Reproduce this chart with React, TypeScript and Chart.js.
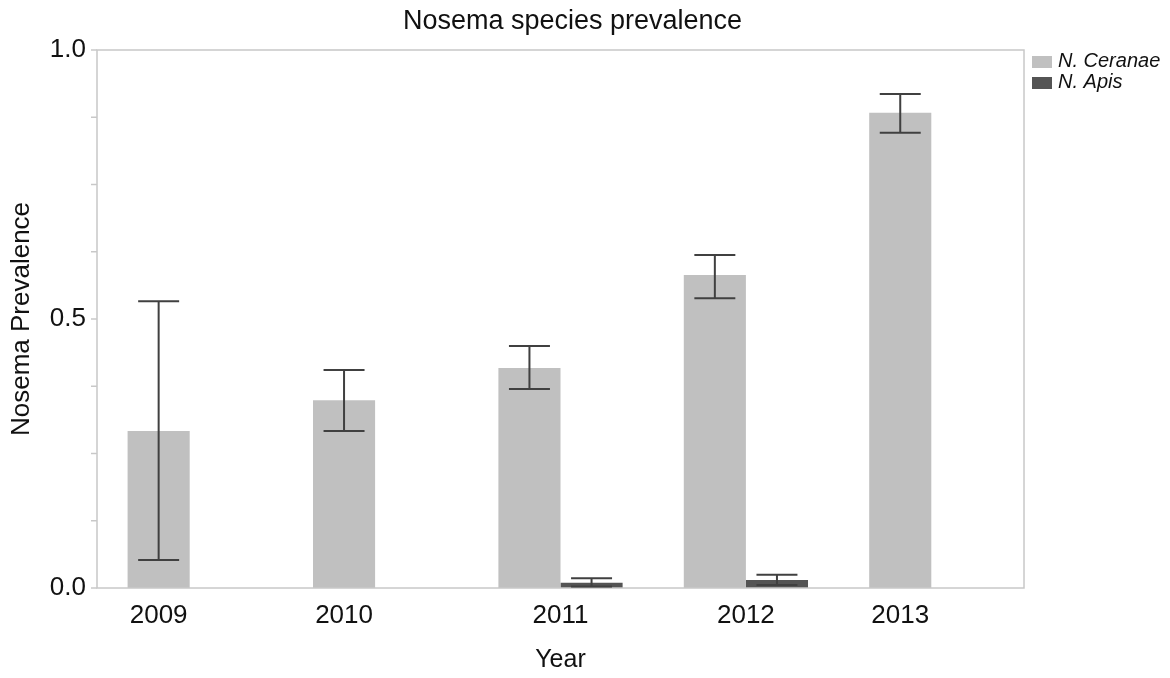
import { useEffect, useRef } from 'react';
import { Chart, registerables } from 'chart.js';

Chart.register(...registerables);

const FONT = "'Liberation Sans', Arial, Helvetica, sans-serif";

const years = ['2009', '2010', '2011', '2012', '2013'];
const ceranae = [0.292, 0.349, 0.409, 0.582, 0.8835];
const ceranaeLow = [0.052, 0.292, 0.37, 0.5385, 0.846];
const ceranaeHigh = [0.533, 0.405, 0.45, 0.619, 0.918];
const apis: (number | null)[] = [null, null, 0.0099, 0.0149, null];
const apisLow: (number | null)[] = [null, null, 0.003, 0.0056, null];
const apisHigh: (number | null)[] = [null, null, 0.018, 0.0247, null];
const seriesNames = ['N. Ceranae', 'N. Apis'];
const seriesColors = ['#c0c0c0', '#545454'];
const yMajorStep = 0.5;
const yMinorStep = 0.125;

const decor = {
  id: 'decor',
  afterDatasetsDraw(chart: any) {
    const ctx = chart.ctx;
    const a = chart.chartArea;
    const ys = chart.scales.y;
    const xs = chart.scales.x;
    ctx.save();
    // plot box
    ctx.strokeStyle = '#c8c8c8';
    ctx.lineWidth = 1.5;
    ctx.strokeRect(a.left, a.top, a.right - a.left, a.bottom - a.top);
    // y tick marks
    for (let v = 0; v <= 1.0001; v += yMinorStep) {
      const py = ys.getPixelForValue(v);
      ctx.beginPath();
      ctx.moveTo(a.left - 6, py);
      ctx.lineTo(a.left, py);
      ctx.stroke();
    }
    // error bars
    const sets = [
      [ceranaeLow, ceranaeHigh],
      [apisLow, apisHigh],
    ];
    ctx.strokeStyle = '#404040';
    ctx.lineWidth = 2;
    sets.forEach(([lo, hi], di) => {
      const meta = chart.getDatasetMeta(di);
      meta.data.forEach((el: any, i: number) => {
        const l = lo[i];
        const h = hi[i];
        if (l == null || h == null) return;
        const px = el.x;
        const half = el.width * 0.33;
        const yl = ys.getPixelForValue(l);
        const yh = ys.getPixelForValue(h);
        ctx.beginPath();
        ctx.moveTo(px, yl);
        ctx.lineTo(px, yh);
        ctx.moveTo(px - half, yl);
        ctx.lineTo(px + half, yl);
        ctx.moveTo(px - half, yh);
        ctx.lineTo(px + half, yh);
        ctx.stroke();
      });
    });
    // x category labels
    ctx.fillStyle = '#111';
    ctx.font = `26px ${FONT}`;
    ctx.textAlign = 'center';
    ctx.textBaseline = 'middle';
    const m0 = chart.getDatasetMeta(0);
    years.forEach((yr, i) => {
      const px = apis[i] == null ? m0.data[i].x : xs.getPixelForValue(i);
      ctx.fillText(yr, px, a.bottom + 28);
    });
    // legend
    ctx.textAlign = 'left';
    ctx.font = `italic 20px ${FONT}`;
    seriesNames.forEach((name, i) => {
      const bx = a.right + 8;
      const by = a.top + 6 + i * 21;
      ctx.fillStyle = seriesColors[i];
      ctx.fillRect(bx, by, 20, 12);
      ctx.fillStyle = '#111';
      ctx.fillText(name, bx + 26, by + 5);
    });
    ctx.restore();
  },
};

export default function App() {
  const ref = useRef<HTMLCanvasElement | null>(null);
  useEffect(() => {
    if (!ref.current) return;
    const chart = new Chart(ref.current, {
      type: 'bar',
      data: {
        labels: years,
        datasets: [
          {
            label: seriesNames[0],
            data: ceranae,
            backgroundColor: seriesColors[0],
            yAxisID: 'y',
            categoryPercentage: 0.67,
            barPercentage: 1.0,
          },
          {
            label: seriesNames[1],
            data: apis,
            backgroundColor: seriesColors[1],
            yAxisID: 'y',
            categoryPercentage: 0.67,
            barPercentage: 1.0,
          },
        ],
      },
      options: {
        animation: false,
        responsive: true,
        maintainAspectRatio: false,
        layout: { padding: { left: 0, right: 25, top: 0, bottom: 0 } },
        plugins: {
          legend: { display: false },
          tooltip: { enabled: false },
          title: {
            display: true,
            text: 'Nosema species prevalence',
            color: '#111',
            font: { family: FONT, size: 27, weight: 'normal' },
            padding: { top: 5, bottom: 12.6 },
          },
        },
        scales: {
          x: {
            type: 'category',
            grid: { display: false, drawTicks: false },
            border: { display: false },
            ticks: { display: false },
            title: {
              display: true,
              text: 'Year',
              color: '#111',
              font: { family: FONT, size: 25 },
              padding: { top: 0, bottom: 3 },
            },
            afterFit: (s: any) => {
              s.height = 90;
            },
          },
          y: {
            type: 'linear',
            position: 'left',
            min: 0,
            max: 1,
            grid: { display: false, drawTicks: false },
            border: { display: false },
            ticks: {
              stepSize: yMajorStep,
              color: '#111',
              font: { family: FONT, size: 26 },
              padding: 11,
              callback: (v: any) => Number(v).toFixed(1),
            },
            title: {
              display: true,
              text: 'Nosema Prevalence',
              color: '#111',
              font: { family: FONT, size: 26 },
              padding: { top: 6.4, bottom: 0 },
            },
            afterFit: (s: any) => {
              s.width = 97;
            },
          },
          pad: {
            type: 'linear',
            position: 'right',
            display: true,
            grid: { display: false, drawTicks: false },
            border: { display: false },
            ticks: { display: false },
            afterFit: (s: any) => {
              s.width = 121;
            },
          },
        },
      } as any,
      plugins: [decor],
    });
    return () => chart.destroy();
  }, []);
  return (
    <div style={{ position: 'fixed', left: 0, top: 0, width: 1170, height: 678, background: '#fff' }}>
      <canvas ref={ref} />
    </div>
  );
}
